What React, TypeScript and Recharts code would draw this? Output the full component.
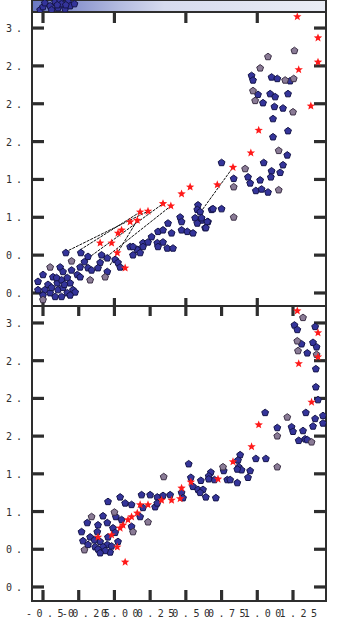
import { ScatterChart, Scatter, XAxis, YAxis, ReferenceArea, ReferenceLine } from 'recharts';

// axis setup
const X_DOMAIN = [-0.577, 1.481];
const X_TICKS = [-0.5, -0.25, 0, 0.25, 0.5, 0.75, 1.0, 1.25];
const X_TICK_LABELS = ['-0.50', '-0.25', '0.00', '0.25', '0.50', '0.75', '1.00', '1.25'];
const X_MAJOR = [-0.5, 0, 0.5, 1.0];
const Y_TICKS = [0, 0.5, 1, 1.5, 2, 2.5, 3, 3.5];
const Y_TICK_LABELS = ['0.', '0.', '1.', '1.', '2.', '2.', '2.', '3.'];
const P1_Y_DOMAIN = [-0.172, 3.712];
const P2_Y_DOMAIN = [-0.186, 3.725];

// points of the panel cut off at the top
const STRIP_PTS = [
  [-0.52, 0.17], [-0.5, 0.42], [-0.487, 0.75], [-0.45, 0.5], [-0.44, 0.17], [-0.415, 0.83],
  [-0.395, 0.33], [-0.38, 0.92], [-0.37, 0.67], [-0.345, 0.25], [-0.325, 0.83], [-0.31, 0.5],
  [-0.28, 0.67], [-0.34, 0.58], [-0.4, 0.58],
];

// upper panel
const P1_BLUE = [
  [-0.34, 0.53], [-0.235, 0.53], [-0.185, 0.48], [-0.24, 0.34], [-0.5, 0.24], [-0.535, 0.15],
  [-0.38, 0.34], [-0.36, 0.28], [-0.43, 0.21], [-0.465, 0.11], [-0.487, 0.04], [-0.4, 0.13],
  [-0.37, 0.17], [-0.33, 0.2], [-0.31, 0.13], [-0.395, 0.04], [-0.36, 0.07], [-0.33, 0.0],
  [-0.37, -0.05], [-0.415, -0.05], [-0.45, 0.0], [-0.29, 0.04], [-0.26, 0.24], [-0.24, 0.21],
  [-0.275, 0.01], [-0.185, 0.33], [-0.1, 0.4], [-0.09, 0.5], [-0.05, 0.46], [-0.115, 0.33],
  [-0.05, 0.28], [0.005, 0.44], [0.025, 0.4], [0.11, 0.61], [0.165, 0.57], [0.13, 0.5],
  [0.2, 0.66], [0.04, 0.34], [-0.5, -0.03], [-0.535, 0.04], [-0.44, 0.07], [-0.35, 0.11],
  [-0.31, -0.03], [-0.405, 0.2], [-0.3, 0.3], [-0.21, 0.41], [-0.16, 0.3],
  [0.75, 1.72], [0.585, 1.16], [0.58, 1.1], [0.6, 1.07], [0.68, 1.1], [0.75, 1.11],
  [0.46, 1.0], [0.47, 0.94], [0.565, 0.99], [0.61, 0.96], [0.655, 0.94], [0.58, 0.92],
  [0.635, 0.86], [0.375, 0.92], [0.47, 0.83], [0.51, 0.81], [0.55, 0.79], [0.305, 0.81],
  [0.34, 0.83], [0.4, 0.79], [0.26, 0.74], [0.235, 0.67], [0.3, 0.66], [0.34, 0.67],
  [0.37, 0.59], [0.41, 0.59], [0.305, 0.61], [0.2, 0.61], [0.16, 0.57], [0.13, 0.61], [0.18, 0.53],
  [0.96, 2.87], [0.97, 2.81], [1.1, 2.85], [1.14, 2.83], [1.23, 2.8], [1.005, 2.62],
  [1.09, 2.63], [1.125, 2.59], [1.215, 2.63], [1.04, 2.51], [1.12, 2.46], [1.18, 2.44],
  [1.11, 2.3], [1.215, 2.14], [1.11, 2.06], [1.21, 1.82], [1.045, 1.72], [1.18, 1.69],
  [1.1, 1.61], [1.16, 1.59], [0.835, 1.51], [0.935, 1.53], [1.02, 1.49], [0.95, 1.45],
  [1.095, 1.53], [0.99, 1.35], [1.03, 1.37], [1.075, 1.33], [0.69, 1.11], [0.61, 0.99],
  [0.65, 0.94], [0.64, 0.86],
];
const P1_GREY = [
  [-0.3, 0.42], [-0.45, 0.34], [-0.17, 0.17], [-0.065, 0.21], [-0.5, -0.09], [1.26, 3.2],
  [1.075, 3.12], [1.02, 2.97], [1.195, 2.81], [1.255, 2.83], [0.97, 2.67], [0.985, 2.54],
  [1.25, 2.39], [1.15, 1.88], [0.915, 1.64], [0.835, 1.4], [1.15, 1.36], [0.835, 1.0],
];
const P1_RED = [
  [1.28, 3.65], [1.425, 3.37], [1.425, 3.05], [1.29, 2.95], [1.375, 2.47], [1.01, 2.15],
  [0.955, 1.85], [0.83, 1.66], [0.72, 1.43], [0.53, 1.4], [0.47, 1.31], [0.34, 1.18],
  [0.395, 1.15], [0.235, 1.08], [0.18, 1.07], [0.16, 0.96], [0.11, 0.94], [0.05, 0.83],
  [0.025, 0.79], [-0.1, 0.66], [-0.02, 0.66], [0.02, 0.53], [0.075, 0.33],
];
// x1, y1, x2, y2
const P1_LINKS = [
  [-0.345, 0.54, 0.235, 1.08], [-0.24, 0.57, 0.18, 1.07], [-0.185, 0.46, 0.34, 1.18],
  [-0.1, 0.41, 0.395, 1.15], [-0.03, 0.37, 0.16, 0.96], [0.6, 1.06, 0.83, 1.66],
];

// lower panel
const P2_BLUE = [
  [0.04, 1.19], [-0.045, 1.13], [0.075, 1.11], [0.12, 1.09], [0.19, 1.22], [0.25, 1.22],
  [0.3, 1.19], [-0.08, 0.94], [0.01, 0.93], [-0.05, 0.85], [0.05, 0.89], [-0.19, 0.85],
  [-0.23, 0.73], [-0.115, 0.82], [-0.22, 0.61], [-0.17, 0.66], [-0.185, 0.56], [-0.135, 0.53],
  [-0.09, 0.49], [-0.1, 0.6], [-0.045, 0.66], [-0.05, 0.56], [-0.08, 0.53], [-0.03, 0.46],
  [0.025, 0.6], [-0.12, 0.73], [-0.01, 0.78], [0.005, 0.72], [0.12, 0.8], [0.18, 0.93],
  [0.2, 1.05], [0.285, 1.06], [-0.115, 0.5], [-0.065, 0.48], [-0.1, 0.45], [-0.14, 0.62],
  [-0.02, 0.54],
  [1.055, 2.31], [1.34, 2.31], [1.405, 2.23], [1.46, 2.27], [1.46, 2.17], [1.39, 2.13],
  [1.14, 2.11], [1.24, 2.12], [1.25, 2.06], [1.32, 2.07], [1.29, 1.94], [1.335, 1.96],
  [0.88, 1.75], [0.865, 1.68], [0.99, 1.7], [1.06, 1.7], [0.87, 1.59], [0.89, 1.55],
  [0.86, 1.56], [0.95, 1.54], [0.935, 1.45], [0.765, 1.54], [0.675, 1.52], [0.66, 1.47],
  [0.7, 1.42], [0.79, 1.42], [0.81, 1.42], [0.86, 1.38], [0.52, 1.63], [0.535, 1.45],
  [0.605, 1.41], [0.66, 1.43], [0.55, 1.33], [0.585, 1.29], [0.62, 1.29], [0.6, 1.25],
  [0.64, 1.19], [0.71, 1.18], [0.47, 1.25], [0.48, 1.18], [0.39, 1.22], [0.34, 1.21], [0.3, 1.11],
  [1.26, 3.47], [1.28, 3.41], [1.405, 3.45], [1.31, 3.22], [1.35, 3.1], [1.39, 3.24],
  [1.415, 3.18], [1.41, 2.89], [1.41, 2.65], [1.425, 2.48], [1.35, 1.95],
];
const P2_GREY = [
  [-0.16, 0.93], [0.0, 0.99], [-0.21, 0.49], [0.13, 0.73], [0.235, 0.86], [1.21, 2.25],
  [1.14, 2.0], [1.14, 1.59], [0.76, 1.59], [0.345, 1.46], [1.32, 3.57], [1.28, 3.26],
  [1.285, 3.13], [1.415, 3.08], [1.38, 1.92],
];
const P2_RED = [
  [0.235, 1.09], [0.18, 1.09], [0.16, 0.98], [0.12, 0.93], [0.095, 0.89], [0.06, 0.82],
  [0.04, 0.78], [-0.02, 0.69], [-0.115, 0.66], [0.02, 0.53], [0.075, 0.33], [1.38, 2.45],
  [1.01, 2.15], [0.96, 1.86], [0.83, 1.66], [0.725, 1.43], [0.535, 1.39], [0.47, 1.31],
  [0.4, 1.15], [0.33, 1.15], [0.46, 1.17], [1.28, 3.66], [1.425, 3.37], [1.425, 3.05], [1.29, 2.96],
];

const toPts = (a: number[][]) => a.map(([x, y]) => ({ x, y }));

const INK = '#2e2e2e';
const FONT = '"DejaVu Sans Mono", monospace';
const PLOT_W = 294;

const Pent = (props: any) => {
  const { cx, cy, fill, stroke } = props;
  if (cx == null || cy == null) return null;
  const pts = [0, 1, 2, 3, 4]
    .map((k) => {
      const a = (-90 + k * 72) * (Math.PI / 180);
      return `${cx + 3.6 * Math.cos(a)},${cy + 3.6 * Math.sin(a)}`;
    })
    .join(' ');
  return <polygon points={pts} fill={fill} stroke={stroke} strokeWidth={1} />;
};

const Star = (props: any) => {
  const { cx, cy } = props;
  if (cx == null || cy == null) return null;
  const pts: string[] = [];
  for (let k = 0; k < 10; k++) {
    const r = k % 2 === 0 ? 4.4 : 1.9;
    const a = (-90 + k * 36) * (Math.PI / 180);
    pts.push(`${cx + r * Math.cos(a)},${cy + r * Math.sin(a)}`);
  }
  return <polygon points={pts.join(' ')} fill="#ff1a1a" />;
};

const blueShape = (p: any) => <Pent {...p} fill="#34349a" stroke="#15154a" />;
const greyShape = (p: any) => <Pent {...p} fill="#8a7b96" stroke="#3c3046" />;
const redShape = (p: any) => <Star {...p} />;

const XLabel = (props: any) => {
  const { index } = props;
  const x = Number(props.x);
  const y = Number(props.y);
  const label = X_TICK_LABELS[index] ?? '';
  const dot = label.indexOf('.');
  const start = x - (dot * 10.5 + 3 - (label.startsWith('-') ? 7 : 0));
  return (
    <text x={start} y={y + 16} fontSize={10} fontFamily={FONT} fill={INK} letterSpacing={4.5}>
      {label}
    </text>
  );
};

const YLabel = (props: any) => (
  <text x={6} y={Number(props.y) + 4} fontSize={10} fontFamily={FONT} fill={INK} letterSpacing={4}>
    {Y_TICK_LABELS[props.index]}
  </text>
);

// inward tick marks as small filled reference areas (sizes given in pixels, converted to data units)
function tickAreas(yDomain: number[], plotH: number, xBottom: number[], xTop: number[], bottomLen: number, topLen: number) {
  const dx = (X_DOMAIN[1] - X_DOMAIN[0]) / PLOT_W;
  const dy = (yDomain[1] - yDomain[0]) / plotH;
  const [x0, x1] = X_DOMAIN;
  const [y0, y1] = yDomain;
  const out: any[] = [];
  const area = (key: string, ax1: number, ax2: number, ay1: number, ay2: number) => (
    <ReferenceArea key={key} x1={ax1} x2={ax2} y1={ay1} y2={ay2} fill={INK} fillOpacity={1} stroke="none" ifOverflow="visible" />
  );
  Y_TICKS.forEach((t, i) => {
    out.push(area(`yl${i}`, x0, x0 + 12 * dx, t - 1.6 * dy, t + 1.6 * dy));
    out.push(area(`yr${i}`, x1 - 12 * dx, x1, t - 1.6 * dy, t + 1.6 * dy));
  });
  xBottom.forEach((t, i) => out.push(area(`xb${i}`, t - 1.6 * dx, t + 1.6 * dx, y0, y0 + bottomLen * dy)));
  xTop.forEach((t, i) => out.push(area(`xt${i}`, t - 1.6 * dx, t + 1.6 * dx, y1 - topLen * dy, y1)));
  return out;
}

export default function App() {
  return (
    <div style={{ position: 'absolute', left: 0, top: 0, width: 359, height: 629, background: '#fff' }}>
      {/* strip of the panel above, cut off by the frame */}
      <div style={{ position: 'absolute', left: 0, top: 0 }}>
        <ScatterChart width={359} height={12} margin={{ top: 0, right: 33, bottom: 0, left: 32 }}>
          <defs>
            <linearGradient id="stripGrad" x1="0" y1="0" x2="1" y2="0">
              <stop offset="0%" stopColor="#6a78c2" />
              <stop offset="15%" stopColor="#8c96d0" />
              <stop offset="30%" stopColor="#b4bce0" />
              <stop offset="45%" stopColor="#d6dbee" />
              <stop offset="100%" stopColor="#eaedf5" />
            </linearGradient>
          </defs>
          <XAxis type="number" dataKey="x" domain={X_DOMAIN} allowDataOverflow hide />
          <YAxis type="number" dataKey="y" domain={[0, 1]} allowDataOverflow hide />
          <ReferenceArea x1={X_DOMAIN[0]} x2={X_DOMAIN[1]} y1={0} y2={1} fill="url(#stripGrad)" fillOpacity={1} stroke={INK} strokeWidth={2} />
          <Scatter data={toPts(STRIP_PTS)} shape={blueShape} isAnimationActive={false} />
        </ScatterChart>
      </div>

      {/* upper panel */}
      <div style={{ position: 'absolute', left: 0, top: 12 }}>
        <ScatterChart width={359} height={295} margin={{ top: 0, right: 33, bottom: 0, left: 0 }}>
          <XAxis type="number" dataKey="x" domain={X_DOMAIN} ticks={X_TICKS} allowDataOverflow height={1}
            axisLine={false} tickLine={false} tick={false} />
          <YAxis type="number" dataKey="y" domain={P1_Y_DOMAIN} ticks={Y_TICKS} allowDataOverflow width={32}
            axisLine={false} tickLine={false} tickSize={0} tickMargin={0} interval={0}
            tick={(p: any) => <YLabel {...p} />} />
          <ReferenceArea x1={X_DOMAIN[0]} x2={X_DOMAIN[1]} y1={P1_Y_DOMAIN[0]} y2={P1_Y_DOMAIN[1]} fill="none" stroke={INK} strokeWidth={2} />
          {tickAreas(P1_Y_DOMAIN, 294, X_MAJOR, X_MAJOR, 8, 11)}
          <Scatter data={toPts(P1_BLUE)} shape={blueShape} isAnimationActive={false} />
          <Scatter data={toPts(P1_GREY)} shape={greyShape} isAnimationActive={false} />
          {P1_LINKS.map(([x1, y1, x2, y2], i) => (
            <ReferenceLine key={`l${i}`} segment={[{ x: x1, y: y1 }, { x: x2, y: y2 }]}
              stroke="#111" strokeWidth={1} strokeDasharray="3 1" />
          ))}
          <Scatter data={toPts(P1_RED)} shape={redShape} isAnimationActive={false} />
        </ScatterChart>
      </div>

      {/* lower panel */}
      <div style={{ position: 'absolute', left: 0, top: 306 }}>
        <ScatterChart width={359} height={323} margin={{ top: 0, right: 33, bottom: 0, left: 0 }}>
          <XAxis type="number" dataKey="x" domain={X_DOMAIN} ticks={X_TICKS} allowDataOverflow height={28}
            axisLine={false} tickLine={false} tickSize={0} tickMargin={0} interval={0}
            tick={(p: any) => <XLabel {...p} />} />
          <YAxis type="number" dataKey="y" domain={P2_Y_DOMAIN} ticks={Y_TICKS} allowDataOverflow width={32}
            axisLine={false} tickLine={false} tickSize={0} tickMargin={0} interval={0}
            tick={(p: any) => <YLabel {...p} />} />
          <ReferenceArea x1={X_DOMAIN[0]} x2={X_DOMAIN[1]} y1={P2_Y_DOMAIN[0]} y2={P2_Y_DOMAIN[1]} fill="none" stroke={INK} strokeWidth={2} />
          {tickAreas(P2_Y_DOMAIN, 295, X_TICKS, X_TICKS, 11, 10)}
          <Scatter data={toPts(P2_BLUE)} shape={blueShape} isAnimationActive={false} />
          <Scatter data={toPts(P2_GREY)} shape={greyShape} isAnimationActive={false} />
          <Scatter data={toPts(P2_RED)} shape={redShape} isAnimationActive={false} />
        </ScatterChart>
      </div>
    </div>
  );
}
